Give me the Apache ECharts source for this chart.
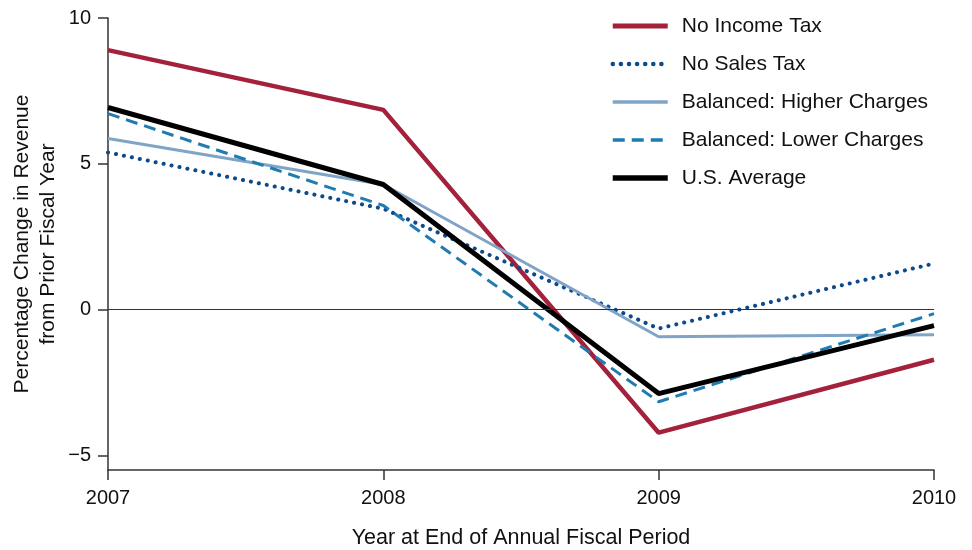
<!DOCTYPE html>
<html>
<head>
<meta charset="utf-8">
<script src="https://cdn.jsdelivr.net/npm/echarts@6/dist/echarts.min.js"></script>
<style>
  html, body { margin: 0; padding: 0; background: #fff; }
  #chart { width: 972px; height: 550px; }
</style>
</head>
<body>
<div id="chart"></div>
<script>
var years = ['2007', '2008', '2009', '2010'];
var noIncomeTax = [8.9, 6.85, -4.22, -1.72];
var noSalesTax = [5.39, 3.46, -0.65, 1.58];
var balancedHigher = [5.87, 4.29, -0.93, -0.86];
var balancedLower = [6.72, 3.57, -3.16, -0.14];
var usAverage = [6.93, 4.29, -2.88, -0.55];
var yTicks = [-5, 0, 5, 10];

var font = 'Liberation Sans';
var myChart = echarts.init(document.getElementById('chart'));

function line(name, data, color, width, type, cap) {
    return {
        name: name,
        type: 'line',
        data: data,
        symbol: 'none',
        animation: false,
        lineStyle: { color: color, width: width, type: type || 'solid', cap: cap || 'butt' },
        itemStyle: { color: color }
    };
}

var series = [
    line('No Income Tax', noIncomeTax, '#a3213a', 4.5),
    line('No Sales Tax', noSalesTax, '#0d4a8c', 4, [0.1, 8], 'round'),
    line('Balanced: Higher Charges', balancedHigher, '#7fa4c8', 3),
    line('Balanced: Lower Charges', balancedLower, '#1f7bb0', 3, [12, 7]),
    line('U.S. Average', usAverage, '#000000', 5)
];
series[0].markLine = {
    silent: true,
    symbol: 'none',
    label: { show: false },
    lineStyle: { color: '#333', width: 1, type: 'solid' },
    data: [{ yAxis: 0 }]
};

var legendData = series.map(function (s) {
    return {
        name: s.name,
        itemStyle: { opacity: 0 },
        lineStyle: {
            color: s.lineStyle.color,
            width: s.lineStyle.width + 0.5,
            type: s.lineStyle.type,
            cap: s.lineStyle.cap
        }
    };
});

myChart.setOption({
    animation: false,
    textStyle: { fontFamily: font },
    grid: { left: 108, right: 38, top: 18, bottom: 80, outerBoundsMode: 'none', containLabel: false },
    legend: {
        orient: 'vertical',
        left: 605,
        top: 10,
        itemWidth: 55,
        itemHeight: 16,
        itemGap: 16,
        textStyle: { fontFamily: font, fontSize: 21, lineHeight: 22, color: '#111', padding: [0, 0, 0, 9] },
        data: legendData
    },
    xAxis: {
        type: 'category',
        data: years,
        boundaryGap: false,
        name: 'Year at End of Annual Fiscal Period',
        nameLocation: 'middle',
        nameGap: 57,
        nameTextStyle: { fontFamily: font, fontSize: 21.5, color: '#111' },
        axisLine: { onZero: false, lineStyle: { color: '#333', width: 1.5 } },
        axisTick: { length: 10, lineStyle: { color: '#333', width: 1.5 } },
        axisLabel: { fontFamily: font, fontSize: 20, color: '#111', margin: 18 },
        splitLine: { show: false }
    },
    yAxis: {
        type: 'value',
        min: -5.5,
        max: 10,
        name: 'Percentage Change in Revenue\nfrom Prior Fiscal Year',
        nameLocation: 'middle',
        nameRotate: 90,
        nameGap: 47,
        nameMoveOverlap: false,
        nameTextStyle: { fontFamily: font, fontSize: 21, color: '#111', lineHeight: 26 },
        axisLine: { show: true, lineStyle: { color: '#333', width: 1.5 } },
        axisTick: { show: true, length: 10, customValues: yTicks, lineStyle: { color: '#333', width: 1.5 } },
        axisLabel: {
            fontFamily: font, fontSize: 20, color: '#111', margin: 17,
            customValues: yTicks,
            formatter: function (v) { return String(v).replace('-', '\u2212'); }
        },
        splitLine: { show: false }
    },
    series: series
});
</script>
</body>
</html>
